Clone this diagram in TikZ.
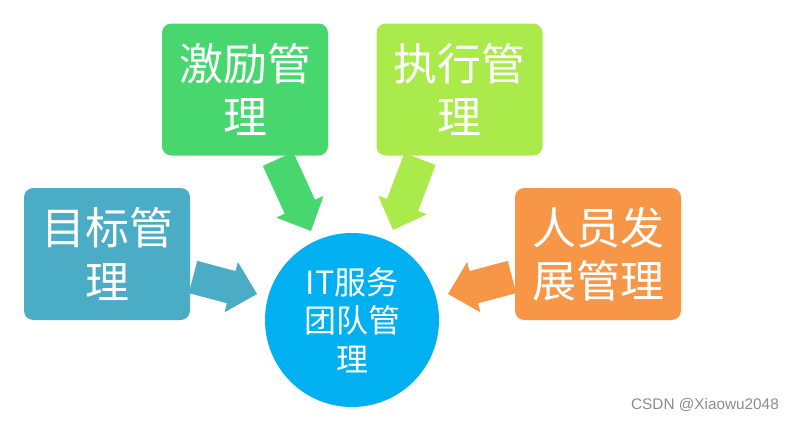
\documentclass[tikz,border=0pt]{standalone}
\usepackage{fontspec}
\usepackage{tikz}
\usetikzlibrary{calc}
\newfontfamily\cjk{Noto Sans CJK SC}
\setmainfont{Liberation Sans}
\definecolor{goalcol}{HTML}{4BACC6}
\definecolor{motivcol}{HTML}{48D66F}
\definecolor{execcol}{HTML}{AAEA4A}
\definecolor{staffcol}{HTML}{F79646}
\definecolor{hubcol}{HTML}{00B0F0}

% block arrow from tail #1 to tip #2 in colour #3
\newcommand{\blockarrow}[3]{%
  \fill[#3] let \p1=($(#2)-(#1)$), \n1={atan2(\y1,\x1)}, \n2={veclen(\x1,\y1)} in
    [shift={(#1)}, rotate=\n1]
    (0pt,-12.5pt) -- ({\n2*1pt-20pt},-12.5pt) -- ({\n2*1pt-20pt},-19.5pt) -- ({\n2*1pt},0pt)
    -- ({\n2*1pt-20pt},19.5pt) -- ({\n2*1pt-20pt},12.5pt) -- (0pt,12.5pt) -- cycle;}

\begin{document}
\begin{tikzpicture}[x=0.75pt,y=-0.75pt,
    box/.style={rounded corners=7pt, minimum width=124.5pt, minimum height=99pt,
      text=white, align=center, inner sep=0pt, font=\cjk\fontsize{33pt}{40pt}\selectfont}]
  \useasboundingbox (0,0) rectangle (797,421);

  \node[box, fill=goalcol] (goal) at (107,254) {目标管\\理};
  \node[box, fill=motivcol] (motiv) at (245,89.5) {激励管\\理};
  \node[box, fill=execcol] (exec) at (459.5,89.5) {执行管\\理};
  \node[box, fill=staffcol] (staff) at (598,254) {人员发\\展管理};
  \node[circle, fill=hubcol, minimum size=130.5pt, inner sep=0pt, text=white, align=center,
    font=\cjk\fontsize{24pt}{29pt}\selectfont] (hub) at (352,320) {IT服务\\团队管\\理};

  \coordinate (goalT) at (193,277);  \coordinate (goalH) at (257,294);
  \coordinate (motivT) at (278,159); \coordinate (motivH) at (311,231);
  \coordinate (execT) at (420,159);  \coordinate (execH) at (393,230);
  \coordinate (staffT) at (512,277); \coordinate (staffH) at (448,294);

  \blockarrow{goalT}{goalH}{goalcol}
  \blockarrow{motivT}{motivH}{motivcol}
  \blockarrow{execT}{execH}{execcol}
  \blockarrow{staffT}{staffH}{staffcol}

  \node[text=black!45, font=\fontsize{11.5pt}{13pt}\selectfont] (mark) at (705,405) {CSDN @Xiaowu2048};
\end{tikzpicture}
\end{document}
